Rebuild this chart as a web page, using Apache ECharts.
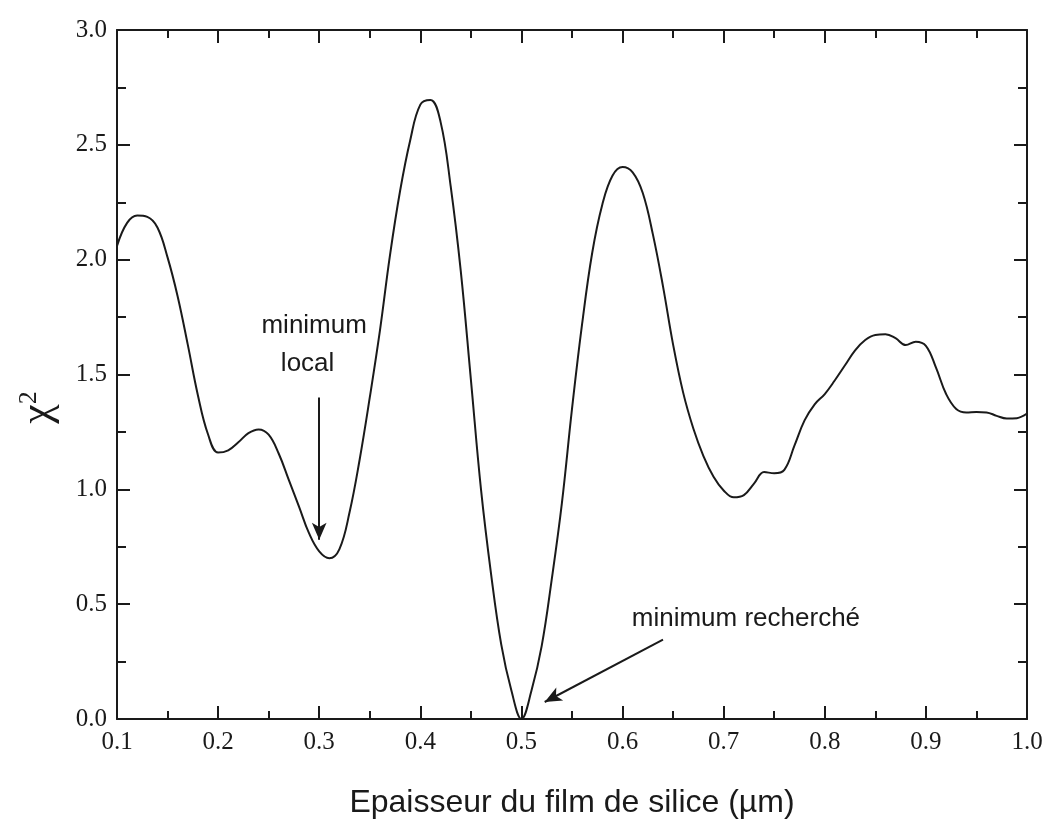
<!DOCTYPE html>
<html>
<head>
<meta charset="utf-8">
<script src="https://cdn.jsdelivr.net/npm/echarts@6/dist/echarts.min.js"></script>
<style>
html,body{margin:0;padding:0;background:#fff;}
#chart{width:1047px;height:824px;}
</style>
</head>
<body>
<div id="chart"></div>
<script>
// Thickness of silica film (µm)
const thickness = [
  0.10, 0.11, 0.12, 0.13, 0.14, 0.15, 0.16, 0.17, 0.18, 0.19,
  0.20, 0.21, 0.22, 0.23, 0.24, 0.25, 0.26, 0.27, 0.28, 0.29,
  0.30, 0.31, 0.32, 0.33, 0.34, 0.35, 0.36, 0.37, 0.38, 0.39,
  0.40, 0.41, 0.42, 0.43, 0.44, 0.45, 0.46, 0.47, 0.48, 0.49,
  0.50, 0.51, 0.52, 0.53, 0.54, 0.55, 0.56, 0.57, 0.58, 0.59,
  0.60, 0.61, 0.62, 0.63, 0.64, 0.65, 0.66, 0.67, 0.68, 0.69,
  0.70, 0.71, 0.72, 0.73, 0.74, 0.75, 0.76, 0.77, 0.78, 0.79,
  0.80, 0.81, 0.82, 0.83, 0.84, 0.85, 0.86, 0.87, 0.88, 0.89,
  0.90, 0.91, 0.92, 0.93, 0.94, 0.95, 0.96, 0.97, 0.98, 0.99,
  1.00
];
// Chi-square values
const chi2 = [
  2.06, 2.16, 2.192, 2.186, 2.14, 2.01, 1.84, 1.63, 1.41, 1.24,
  1.16, 1.17, 1.205, 1.245, 1.261, 1.238, 1.155, 1.04, 0.925, 0.808,
  0.73, 0.70, 0.74, 0.90, 1.13, 1.40, 1.69, 2.02, 2.30, 2.52,
  2.675, 2.695, 2.60, 2.32, 1.95, 1.478, 1.00, 0.63, 0.325, 0.125,
  0.0, 0.125, 0.317, 0.609, 0.94, 1.35, 1.72, 2.03, 2.24, 2.365,
  2.403, 2.38, 2.29, 2.11, 1.884, 1.63, 1.42, 1.265, 1.145, 1.055,
  0.995, 0.965, 0.975, 1.025, 1.075, 1.07, 1.085, 1.19, 1.30, 1.37,
  1.415, 1.475, 1.54, 1.605, 1.65, 1.672, 1.675, 1.658, 1.628, 1.643,
  1.625, 1.53, 1.415, 1.35, 1.335, 1.337, 1.335, 1.32, 1.308, 1.31,
  1.33
];
const xTicks = ['0.1','0.2','0.3','0.4','0.5','0.6','0.7','0.8','0.9','1.0'];
const yTicks = ['0.0','0.5','1.0','1.5','2.0','2.5','3.0'];

// Annotations (data coordinates)
const arrowLocal = [[0.300, 1.40], [0.300, 0.78]];
const arrowGlobal = [[0.640, 0.346], [0.523, 0.074]];
const noteTexts = ['minimum', 'local', 'minimum recherché'];
const noteCoords = [[0.295, 1.713], [0.2885, 1.548], [0.722, 0.435]];

const ink = '#1a1a1a';
const serif = "'Liberation Serif','Times New Roman',serif";
const sans = "'Liberation Sans',Arial,sans-serif";

const xFmt = v => { const i = Math.round((v - 0.1) * 10); return xTicks[i] !== undefined ? xTicks[i] : ''; };
const yFmt = v => { const i = Math.round(v * 2); return yTicks[i] !== undefined ? yTicks[i] : ''; };

function xAxisCfg(pos, showLabel) {
  return {
    type: 'value', position: pos, min: 0.1, max: 1.0, interval: 0.1,
    axisLine: { show: true, onZero: false, lineStyle: { color: ink, width: 2 } },
    axisTick: { show: true, inside: true, length: 13, lineStyle: { color: ink, width: 2 } },
    minorTick: { show: true, splitNumber: 2, length: 8, lineStyle: { color: ink, width: 2 } },
    splitLine: { show: false },
    axisLabel: { show: showLabel, formatter: xFmt, color: ink, fontFamily: serif, fontSize: 25, margin: 11 },
    name: showLabel ? 'Epaisseur du film de silice (µm)' : '',
    nameLocation: 'middle', nameGap: 68,
    nameTextStyle: { color: ink, fontFamily: sans, fontSize: 32 }
  };
}
function yAxisCfg(pos, showLabel) {
  return {
    type: 'value', position: pos, min: 0, max: 3.0, interval: 0.5,
    axisLine: { show: true, onZero: false, lineStyle: { color: ink, width: 2 } },
    axisTick: { show: true, inside: true, length: 13, lineStyle: { color: ink, width: 2 } },
    minorTick: { show: true, splitNumber: 2, length: 9, lineStyle: { color: ink, width: 2 } },
    splitLine: { show: false },
    axisLabel: { show: showLabel, formatter: yFmt, color: ink, fontFamily: serif, fontSize: 25, margin: 10 },
    name: showLabel ? '{c|χ}{s|2}{sp|}' : '',
    nameLocation: 'middle', nameGap: 57, nameRotate: 90,
    nameTextStyle: {
      color: ink,
      rich: {
        c: { fontFamily: serif, fontSize: 44, color: ink },
        s: { fontFamily: serif, fontSize: 26, color: ink, verticalAlign: 'top' },
        sp: { width: 66 }
      }
    }
  };
}

const chart = echarts.init(document.getElementById('chart'), null, { renderer: 'canvas' });
chart.setOption({
  backgroundColor: '#ffffff',
  animation: false,
  grid: { left: 117, right: 20, top: 30, bottom: 103, containLabel: false },
  xAxis: [xAxisCfg('bottom', true), xAxisCfg('top', false)],
  yAxis: [yAxisCfg('left', true), yAxisCfg('right', false)],
  series: [{
    type: 'line',
    data: thickness.map((x, i) => [x, chi2[i]]),
    smooth: 0.4,
    showSymbol: false,
    lineStyle: { color: ink, width: 2 },
    markLine: {
      silent: true,
      symbol: ['none', 'arrow'],
      symbolSize: [11, 17],
      label: { show: false },
      lineStyle: { color: ink, width: 2, type: 'solid' },
      data: [
        [{ coord: arrowLocal[0] }, { coord: arrowLocal[1] }],
        [{ coord: arrowGlobal[0] }, { coord: arrowGlobal[1] }]
      ]
    },
    markPoint: {
      silent: true,
      symbol: 'circle',
      symbolSize: 0,
      data: noteTexts.map((t, i) => ({
        coord: noteCoords[i],
        label: {
          show: true, formatter: t, position: 'inside',
          color: ink, fontFamily: sans, fontSize: 26
        }
      }))
    }
  }]
});
</script>
</body>
</html>
